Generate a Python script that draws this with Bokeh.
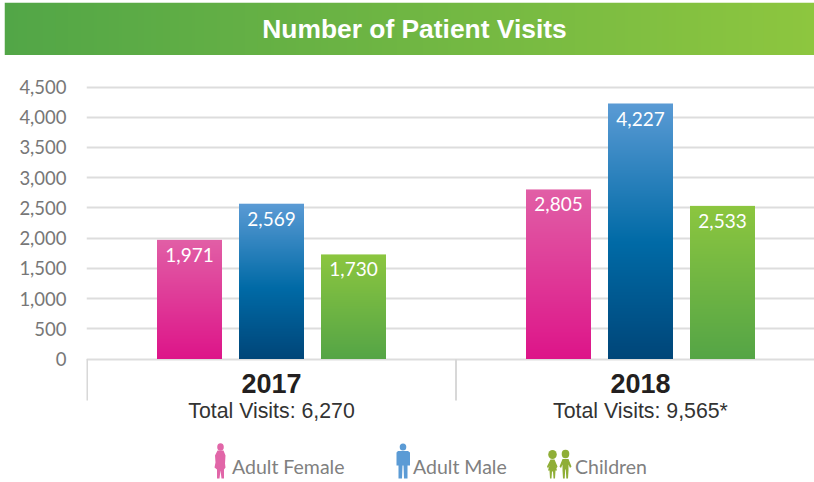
import numpy as np
from bokeh.plotting import figure
from bokeh.layouts import column
from bokeh.models import Range1d, FixedTicker, NumeralTickFormatter
from bokeh.core.properties import value
from bokeh.embed import file_html
from bokeh.resources import INLINE

title = "Number of Patient Visits"
years = ["2017", "2018"]
totals = ["Total Visits: 6,270", "Total Visits: 9,565*"]
series_names = ["Adult Female", "Adult Male", "Children"]
adult_female = [1971, 2805]
adult_male = [2569, 4227]
children = [1730, 2533]
y_ticks = [0, 500, 1000, 1500, 2000, 2500, 3000, 3500, 4000, 4500]

W, H, HEAD = 814, 482, 55
LEFT = 86
UNIT = 272 / 4500           # px per visit
ZERO_PX = 358.5             # page y of value 0
GROUP = 369.0               # px per year group
ORIGIN = 86.5               # page x of the first group's left edge


def hex_rgb(h):
    return tuple(int(h[i:i + 2], 16) for i in (1, 3, 5))


def ramp(stops, n):
    """stops = [(t, colour)...]; returns n x 3 array"""
    ts = [s[0] for s in stops]
    cs = np.array([hex_rgb(s[1]) for s in stops], float)
    t = np.linspace(0, 1, n)
    return np.stack([np.interp(t, ts, cs[:, k]) for k in range(3)], axis=1)


def rgba_image(rgb, vertical):
    n = len(rgb)
    rgba = np.full((n, 1, 4) if vertical else (1, n, 4), 255, dtype=np.uint8)
    arr = rgb.round().astype(np.uint8)
    if vertical:
        rgba[:, 0, :3] = arr
    else:
        rgba[0, :, :3] = arr
    return rgba.view(dtype=np.uint32).reshape(rgba.shape[:2])


# ---------- header ----------
head = figure(width=W, height=HEAD, x_range=Range1d(0, 1), y_range=Range1d(0, 1),
              output_backend="svg", toolbar_location=None, min_border_left=4,
              min_border_right=0, min_border_top=2, min_border_bottom=0, frame_align=False,
              outline_line_color=None, background_fill_color=None, border_fill_color=None)
head.axis.visible = False
head.grid.visible = False
head.image_rgba(image=[rgba_image(ramp([(0, "#52A647"), (1, "#8DC63F")], 256), False)],
                x=0, y=0, dw=1, dh=1)
head.text(x=[(414 - 4) / 810], y=[0.5], text=[title], text_align="center", text_baseline="middle",
          text_color="#FFFFFF", text_font=value("Liberation Sans"), text_font_style="bold",
          text_font_size="26.4px")

# ---------- main ----------
main_h = H - HEAD
y_top = (ZERO_PX - HEAD) / UNIT
y_bot = (ZERO_PX - H) / UNIT
p = figure(width=W, height=main_h,
           x_range=Range1d((LEFT - ORIGIN) / GROUP, (W - ORIGIN) / GROUP),
           y_range=Range1d(y_bot, y_top),
           output_backend="svg", toolbar_location=None, min_border_left=LEFT,
           min_border_right=0, min_border_top=0, min_border_bottom=0, frame_align=False,
           outline_line_color=None)


def X(px):
    return (px - ORIGIN) / GROUP


def Y(py):
    return (ZERO_PX - py) / UNIT


p.xaxis.visible = False
p.xgrid.visible = False
p.ygrid.ticker = FixedTicker(ticks=y_ticks)
p.ygrid.grid_line_color = "#DDDDDD"
p.ygrid.grid_line_width = 2
yax = p.yaxis[0]
yax.ticker = FixedTicker(ticks=y_ticks)
yax.formatter = NumeralTickFormatter(format="0,0")
yax.axis_line_color = None
yax.major_tick_line_color = None
yax.minor_tick_line_color = None
yax.major_label_text_font = "Lato"
yax.major_label_text_font_size = "18.5px"
yax.major_label_text_color = "#777777"
yax.major_label_standoff = 14

# separators under the axis
p.segment(x0=[0, 1], y0=[0, 0], x1=[0, 1], y1=[Y(400)] * 2, line_color="#D8D8D8", line_width=2)

BAR_W = 65 / GROUP
OFFS = [-82 / GROUP, 0, 82 / GROUP]
gradients = [
    [(0, "#DD1589"), (1, "#E15FA6")],
    [(0, "#004679"), (0.45, "#006AA6"), (1, "#5B9BD5")],
    [(0, "#55A546"), (1, "#8CC63F")],
]
all_series = [adult_female, adult_male, children]
for vals, off, grad in zip(all_series, OFFS, gradients):
    img = rgba_image(ramp(grad, 256), True)
    xs = [i + 0.5 + off for i in range(2)]
    p.image_rgba(image=[img, img], x=[x - BAR_W / 2 for x in xs], y=[0, 0],
                 dw=[BAR_W, BAR_W], dh=vals)
    p.text(x=xs, y=vals, text=[f"{v:,}" for v in vals], text_align="center",
           text_baseline="middle", y_offset=15, text_color="#FFFFFF",
           text_font=value("Lato"), text_font_size="19px")

# year + totals
centres = [0.5, 1.5]
p.text(x=centres, y=[Y(382.5)] * 2, text=years, text_align="center", text_baseline="middle",
       text_color="#231F20", text_font=value("Liberation Sans"), text_font_style="bold",
       text_font_size="27px")
p.text(x=centres, y=[Y(410)] * 2, text=totals, text_align="center", text_baseline="middle",
       text_color="#333333", text_font=value("Liberation Sans"), text_font_size="21.3px")

# legend
FEMALE, MALE, KID = "#E166A8", "#5B9BD5", "#8FAE36"
ICON_DY = -1


def blob(pts, color):
    p.patch([X(a) for a, _ in pts], [Y(b + ICON_DY) for _, b in pts], fill_color=color, line_color=None)


def head_dot(cx, cy, rx, ry, color):
    p.ellipse(x=[X(cx)], y=[Y(cy + ICON_DY)], width=[2 * rx / GROUP], height=[2 * ry / UNIT],
              fill_color=color, line_color=None)


head_dot(220, 447.5, 3.3, 3.8, FEMALE)
blob([(217, 451), (223, 451), (225, 456), (224.5, 464), (225, 468), (223.5, 470), (223.5, 479),
      (221, 479), (220, 471), (219, 479), (216.5, 479), (216.5, 470), (214, 468), (215, 463), (214.5, 456)], FEMALE)
head_dot(402.5, 447.5, 3.3, 3.6, MALE)
blob([(397.5, 451.5), (407.5, 451.5), (409.5, 453), (409.5, 466), (407, 466), (407, 479), (403.5, 479),
      (403, 466), (402, 466), (401.5, 479), (398, 479), (398, 466), (396, 466), (396, 453)], MALE)
head_dot(552, 455, 4.3, 4.6, KID)
blob([(550, 460), (554, 460), (557, 467), (556, 469), (555, 466), (556.5, 471), (555, 471), (554.5, 479),
      (553, 479), (552.5, 472), (551.5, 472), (551, 479), (549.5, 479), (549, 471), (547.5, 471),
      (549, 466), (547.5, 469), (546.5, 467)], KID)
head_dot(565, 454.5, 3.8, 4.2, KID)
blob([(562, 459.5), (568, 459.5), (571, 467), (569.5, 468.5), (568, 465), (568, 471), (567.5, 479),
      (565.8, 479), (565.3, 470), (564.7, 470), (564.2, 479), (562.5, 479), (562, 471), (562, 465),
      (560.5, 468.5), (559, 467)], KID)
legend_x = [231.5, 412.5, 574.5]
p.text(x=[X(a) for a in legend_x], y=[Y(466)] * 3, text=series_names, text_align="left",
       text_baseline="middle", text_color="#808080", text_font=value("Lato"), text_font_size="19.5px")

root = column(head, p, spacing=0)
open("out.html", "w").write(file_html(root, INLINE))
